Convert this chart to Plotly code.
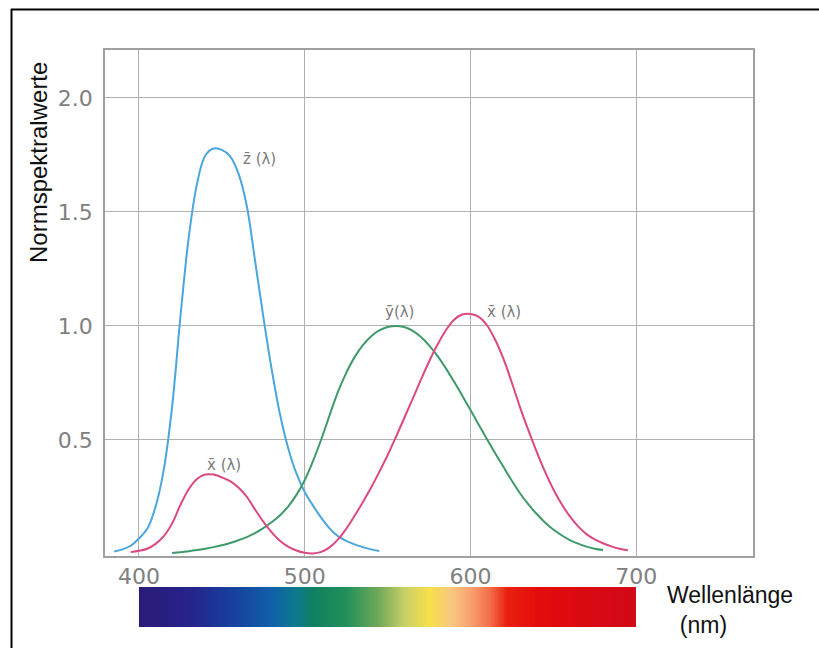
import plotly.graph_objects as go

# ---- data (CIE-like color matching functions) ----
wl_z = [385, 390, 395, 400, 405, 410, 415, 420, 425, 430, 435, 440, 445, 450, 455, 460, 465, 470,
        475, 480, 485, 490, 495, 500, 505, 510, 515, 520, 525, 530, 535, 540, 545]
z_bar = [0.011, 0.020, 0.036, 0.068, 0.110, 0.207, 0.371, 0.646, 1.039, 1.386, 1.623, 1.747, 1.778,
         1.772, 1.744, 1.669, 1.528, 1.288, 1.042, 0.813, 0.616, 0.465, 0.353, 0.272, 0.212, 0.158,
         0.112, 0.078, 0.057, 0.042, 0.030, 0.020, 0.013]

wl_y = [420, 425, 430, 435, 440, 445, 450, 455, 460, 465, 470, 475, 480, 485, 490, 495, 500, 505,
        510, 515, 520, 525, 530, 535, 540, 545, 550, 555, 560, 565, 570, 575, 580, 585, 590, 595,
        600, 605, 610, 615, 620, 625, 630, 635, 640, 645, 650, 655, 660, 665, 670, 675, 680]
y_bar = [0.004, 0.007, 0.012, 0.017, 0.023, 0.030, 0.038, 0.048, 0.060, 0.074, 0.091, 0.113, 0.139,
         0.169, 0.208, 0.259, 0.323, 0.407, 0.503, 0.608, 0.710, 0.793, 0.862, 0.915, 0.954, 0.980,
         0.995, 1.000, 0.995, 0.979, 0.952, 0.915, 0.870, 0.816, 0.757, 0.695, 0.631, 0.567, 0.503,
         0.441, 0.381, 0.321, 0.265, 0.217, 0.175, 0.138, 0.107, 0.082, 0.061, 0.045, 0.032, 0.023,
         0.017]

wl_x = [395, 400, 405, 410, 415, 420, 425, 430, 435, 440, 445, 450, 455, 460, 465, 470, 475, 480,
        485, 490, 495, 500, 505, 510, 515, 520, 525, 530, 535, 540, 545, 550, 555, 560, 565, 570,
        575, 580, 585, 590, 595, 600, 605, 610, 615, 620, 625, 630, 635, 640, 645, 650, 655, 660,
        665, 670, 675, 680, 685, 690, 695]
x_bar = [0.008, 0.014, 0.023, 0.044, 0.078, 0.134, 0.215, 0.284, 0.329, 0.348, 0.348, 0.336, 0.319,
         0.291, 0.251, 0.195, 0.142, 0.096, 0.058, 0.032, 0.015, 0.005, 0.002, 0.009, 0.029, 0.063,
         0.110, 0.166, 0.226, 0.290, 0.360, 0.433, 0.512, 0.595, 0.678, 0.762, 0.843, 0.916, 0.979,
         1.026, 1.050, 1.052, 1.040, 1.003, 0.938, 0.854, 0.751, 0.642, 0.542, 0.448, 0.361, 0.284,
         0.219, 0.165, 0.121, 0.087, 0.064, 0.047, 0.033, 0.023, 0.016]

x_ticks = [400, 500, 600, 700]
y_ticks = [0.5, 1.0, 1.5, 2.0]
y_tick_labels = ["0.5", "1.0", "1.5", "2.0"]

spectrum_nm = [400, 430, 460, 480, 495, 505, 525, 545, 560, 575, 588, 600, 612, 622, 640, 700]
spectrum_colors = ["#2b1b78", "#26238a", "#1545a0", "#1060a8", "#0d7a8c", "#108060", "#22905a",
                   "#74aa58", "#c8d068", "#f8e048", "#f8c880", "#f8a070", "#f26a45", "#e82010",
                   "#e40c0c", "#d00818"]

labels = [("z\u0304 (\u03bb)", 473, 1.73), ("y\u0304(\u03bb)", 557, 1.06),
          ("x\u0304 (\u03bb)", 620, 1.06), ("x\u0304 (\u03bb)", 451, 0.39)]

# ---- figure ----
W, H = 819, 648
ML, MR, MT, MB = 105, 66, 50, 21
pw, ph = W - ML - MR, H - MT - MB


def px(xp):
    return (xp - ML) / pw


def py(yp):
    return (H - MB - yp) / ph


fig = go.Figure()

fig.add_trace(go.Scatter(x=wl_z, y=z_bar, mode="lines", line=dict(color="#4aa6dc", width=2, shape="spline"),
                         hoverinfo="skip", showlegend=False))
fig.add_trace(go.Scatter(x=wl_y, y=y_bar, mode="lines", line=dict(color="#3f9a6a", width=2, shape="spline"),
                         hoverinfo="skip", showlegend=False))
fig.add_trace(go.Scatter(x=wl_x, y=x_bar, mode="lines", line=dict(color="#dc4883", width=2, shape="spline"),
                         hoverinfo="skip", showlegend=False))

# spectrum bar
span = spectrum_nm[-1] - spectrum_nm[0]
cscale = [[(n - spectrum_nm[0]) / span, c] for n, c in zip(spectrum_nm, spectrum_colors)]
bar_x = [spectrum_nm[0] + 0.5 + i for i in range(int(span))]
fig.add_trace(go.Heatmap(x=bar_x, y=[0.5], z=[bar_x], colorscale=cscale, zmin=spectrum_nm[0],
                         zmax=spectrum_nm[-1], showscale=False, zsmooth="best", hoverinfo="skip",
                         xaxis="x2", yaxis="y2"))

bottom_main = py(556)
bar_top = py(587)

tickfont = dict(family="DejaVu Sans", size=22, color="#808080")
fig.update_layout(
    width=W, height=H,
    margin=dict(l=ML, r=MR, t=MT, b=MB),
    paper_bgcolor="white", plot_bgcolor="white",
    xaxis=dict(range=[379.5, 770.5], tickvals=x_ticks, ticks="", showgrid=True, gridcolor="#b0b0b0",
               gridwidth=1, showline=True, mirror=True, linecolor="#a0a0a0", linewidth=1.5,
               zeroline=False, tickfont=tickfont, ticklabelstandoff=0, anchor="y", domain=[0, 1]),
    yaxis=dict(range=[-0.009, 2.21], tickvals=y_ticks, ticktext=y_tick_labels, ticks="", showgrid=True,
               gridcolor="#b0b0b0", gridwidth=1, showline=True, mirror=True, linecolor="#a0a0a0",
               linewidth=1.5, zeroline=False, tickfont=tickfont,
               ticklabelstandoff=6, domain=[bottom_main, 1]),
    xaxis2=dict(matches="x", anchor="y2", visible=False, showgrid=False),
    yaxis2=dict(domain=[0, bar_top], range=[0, 1], visible=False, showgrid=False),
)

ann = []
for text, xv, yv in labels:
    ann.append(dict(text=text, x=xv, y=yv, xref="x", yref="y", showarrow=False,
                    xanchor="center", yanchor="middle",
                    font=dict(family="DejaVu Sans", size=15, color="#7a7a7a")))
ann.append(dict(text="Normspektralwerte", x=px(38), y=py(163), xref="paper", yref="paper", showarrow=False,
                textangle=-90, xanchor="center", yanchor="middle",
                font=dict(family="Liberation Sans", size=24, color="#111111")))
ann.append(dict(text="Wellenlänge<br>\u00a0\u00a0(nm)", x=px(665), y=py(610), xref="paper", yref="paper",
                showarrow=False, xanchor="left", yanchor="middle", align="left",
                font=dict(family="Liberation Sans", size=23, color="#111111")))
fig.update_layout(annotations=ann)

# outer black frame (top and left)
fig.add_shape(type="line", xref="paper", yref="paper", x0=px(11), x1=px(819), y0=py(9.5), y1=py(9.5),
              line=dict(color="black", width=2))
fig.add_shape(type="line", xref="paper", yref="paper", x0=px(11.5), x1=px(11.5), y0=py(9), y1=py(648),
              line=dict(color="black", width=2))

fig.write_html("out.html", config={"displayModeBar": False},
               post_script="document.body.style.margin='0';")
